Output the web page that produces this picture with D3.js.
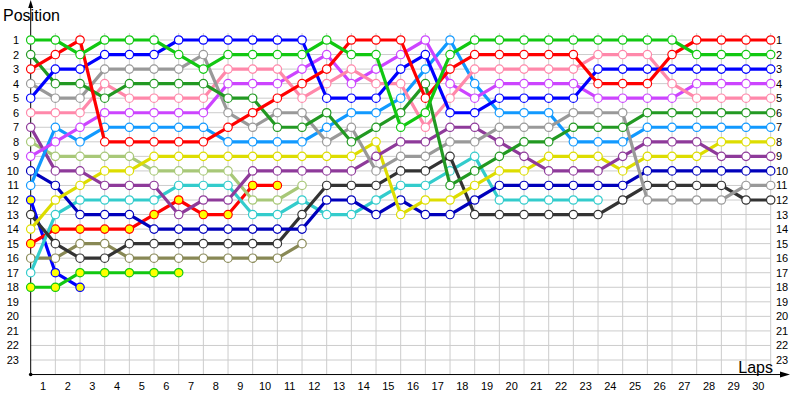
<!DOCTYPE html>
<html>
<head>
<meta charset="utf-8">
<script src="https://cdn.jsdelivr.net/npm/d3@7"></script>
<style>
  body { margin: 0; background: #fff; }
  svg { display: block; }
  .tick text { font-family: "Liberation Sans", Arial, sans-serif; font-size: 11px; fill: #000; }
  .title { font-family: "Liberation Sans", Arial, sans-serif; font-size: 16px; fill: #000; }
</style>
</head>
<body>
<svg id="chart"></svg>
<script>
// positions per lap (index 0 = grid), drivers who retired just stop
var greenA      = [1,1,2,1,1,1,2,3,2,2,2,2,1,2,2,7,6,2,1,1,1,1,1,1,1,1,1,2,2,2,2];
var redA        = [3,2,1,8,8,8,8,8,7,6,5,4,3,1,1,1,5,3,2,2,2,2,2,4,4,4,2,1,1,1,1];
var blueA       = [5,3,3,2,2,2,1,1,1,1,1,1,5,5,5,3,2,6,6,5,5,5,5,3,3,3,3,3,3,3,3];
var darkGreen   = [2,4,4,5,4,4,4,4,5,5,7,7,6,8,7,6,4,11,10,9,8,8,7,7,7,6,6,6,6,6,6];
var grey        = [4,5,5,3,3,3,3,2,6,7,6,6,8,7,10,9,9,8,8,7,7,7,6,6,6,12,12,12,12,11,11];
var pink        = [6,6,6,4,5,5,5,5,3,3,3,5,4,3,4,4,7,5,3,3,3,3,3,2,2,2,4,5,5,5,5];
var violet      = [9,8,7,6,6,6,6,6,4,4,4,3,2,4,3,2,1,4,5,4,4,4,4,5,5,5,5,4,4,4,4];
var lightBlue   = [11,7,8,7,7,7,7,7,8,8,8,8,7,6,6,5,3,1,4,6,6,6,8,8,8,7,7,7,7,7,7];
var plum        = [7,10,10,11,11,11,13,12,12,10,10,10,10,10,9,8,8,7,7,8,9,10,10,10,9,8,8,8,9,9,9];
var khaki       = [8,9,9,9,9,10,10,10,10,12,12,11];
var yellow      = [14,12,11,10,10,9,9,9,9,9,9,9,9,9,8,13,12,12,11,10,10,9,9,9,10,9,9,9,8,8,8];
var navy        = [10,11,13,13,13,14,14,14,14,14,14,14,12,12,13,12,13,13,12,11,11,11,11,11,11,10,10,10,10,10,10];
var teal        = [17,13,12,12,12,12,11,11,11,13,13,12,13,13,12,11,11,10,9,12,12,12,12,12];
var redB        = [15,14,14,14,14,13,12,13,13,11,11];
var black       = [13,15,16,16,15,15,15,15,15,15,15,13,11,11,11,10,10,9,13,13,13,13,13,13,12,11,11,11,11,12,12];
var olive       = [16,16,15,15,16,16,16,16,16,16,16,15];
var blueB       = [12,17,18];
var greenB      = [18,18,17,17,17,17,17];

var laps = d3.range(1, 31);
var positions = d3.range(1, 24);

var drivers = [
  {pos: blueB,     color: "#0000ff", fill: "#ffff00"},
  {pos: greenB,    color: "#11c811", fill: "#ffff00"},
  {pos: olive,     color: "#888855", fill: "#fff"},
  {pos: redB,      color: "#ff0000", fill: "#ffff00"},
  {pos: khaki,     color: "#a8c878", fill: "#fff"},
  {pos: teal,      color: "#33cccc", fill: "#fff"},
  {pos: black,     color: "#333333", fill: "#fff"},
  {pos: navy,      color: "#0000bb", fill: "#fff"},
  {pos: yellow,    color: "#dddd00", fill: "#fff"},
  {pos: plum,      color: "#8e3a9a", fill: "#fff"},
  {pos: lightBlue, color: "#1199ff", fill: "#fff"},
  {pos: violet,    color: "#cc44ff", fill: "#fff"},
  {pos: pink,      color: "#ff88aa", fill: "#fff"},
  {pos: grey,      color: "#999999", fill: "#fff"},
  {pos: darkGreen, color: "#229922", fill: "#fff"},
  {pos: blueA,     color: "#0000ff", fill: "#fff"},
  {pos: redA,      color: "#ff0000", fill: "#fff"},
  {pos: greenA,    color: "#11c811", fill: "#fff"}
];

var width = 800, height = 400;

var svg = d3.select("#chart")
    .attr("width", width)
    .attr("height", height);

var x = d3.scaleLinear().domain([0, 30]).range([30.7, 770.7]);
var y = d3.scaleLinear().domain([1, 23]).range([40, 360]);
var xLap = d3.scaleBand().domain(laps).range([x(0), x(30)]);

var axisY = y(24);

// grid
svg.append("g").selectAll("line")
    .data(d3.range(1, 31))
  .enter().append("line")
    .attr("x1", function(d) { return x(d); })
    .attr("x2", function(d) { return x(d); })
    .attr("y1", 33)
    .attr("y2", axisY)
    .attr("stroke", "#cccccc");

svg.append("g").selectAll("line")
    .data(positions)
  .enter().append("line")
    .attr("x1", x(0))
    .attr("x2", x(30))
    .attr("y1", function(d) { return y(d); })
    .attr("y2", function(d) { return y(d); })
    .attr("stroke", "#cccccc");

// tick labels
var left = svg.append("g")
    .attr("transform", "translate(19,0)")
    .call(d3.axisLeft(y).tickValues(positions).tickSize(0).tickPadding(0));
left.select(".domain").remove();

var right = svg.append("g")
    .attr("transform", "translate(776,0)")
    .call(d3.axisRight(y).tickValues(positions).tickSize(0).tickPadding(0));
right.select(".domain").remove();

var bottom = svg.append("g")
    .attr("transform", "translate(0," + axisY + ")")
    .call(d3.axisBottom(xLap).tickSize(0).tickPadding(8));
bottom.select(".domain").remove();

// axes with arrows
svg.append("line")
    .attr("x1", x(0)).attr("x2", x(0))
    .attr("y1", 4).attr("y2", axisY)
    .attr("stroke", "#000");
svg.append("path")
    .attr("d", "M" + (x(0) - 2.5) + ",8L" + x(0) + ",0L" + (x(0) + 2.5) + ",8Z")
    .attr("fill", "#000");
svg.append("line")
    .attr("x1", x(0)).attr("x2", 784)
    .attr("y1", axisY).attr("y2", axisY)
    .attr("stroke", "#000");
svg.append("path")
    .attr("d", "M780," + (axisY - 3) + "L790," + axisY + "L780," + (axisY + 3) + "Z")
    .attr("fill", "#000");
svg.append("circle")
    .attr("cx", x(0)).attr("cy", axisY).attr("r", 1.8)
    .attr("fill", "#000");

svg.append("text").attr("class", "title")
    .attr("x", 3).attr("y", 21)
    .text("Position");
svg.append("text").attr("class", "title")
    .attr("x", 773).attr("y", 373)
    .attr("text-anchor", "end")
    .text("Laps");

// drivers
var line = d3.line()
    .x(function(d, i) { return x(i); })
    .y(function(d) { return y(d); });

drivers.forEach(function(dr) {
  var g = svg.append("g");
  g.append("path")
      .attr("d", line(dr.pos))
      .attr("fill", "none")
      .attr("stroke", dr.color)
      .attr("stroke-width", 3.2)
      .attr("stroke-linejoin", "round");
  g.selectAll("circle")
      .data(dr.pos)
    .enter().append("circle")
      .attr("cx", function(d, i) { return x(i); })
      .attr("cy", function(d) { return y(d); })
      .attr("r", 4.2)
      .attr("fill", dr.fill)
      .attr("stroke", dr.color)
      .attr("stroke-width", 1.2);
});
</script>
</body>
</html>
